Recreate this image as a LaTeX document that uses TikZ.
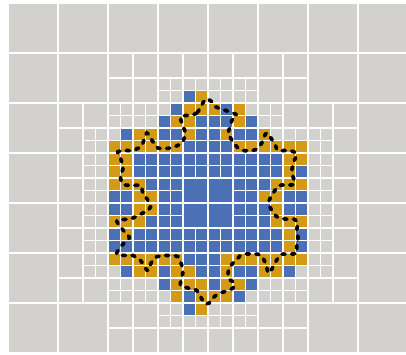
\documentclass[tikz,border=0pt]{standalone}
\definecolor{meshgray}{RGB}{211,209,205}
\definecolor{meshblue}{RGB}{76,112,181}
\definecolor{meshgold}{RGB}{211,154,24}
\usetikzlibrary{calc}

\begin{document}
\begin{tikzpicture}[x=0.5cm, y=-0.5cm,
  bigcell/.style={fill=meshgray},
  midcell/.style={fill=meshgray},
  finecell/.style={fill=meshgray},
  interface/.style={draw=black, line width=4.2pt, line cap=round, dash pattern=on 3.6pt off 7.4pt}
]
  \useasboundingbox (-0.64,-0.24) rectangle (31.84,28.08);
  \fill[white] (-0.64,-0.24) rectangle (31.84,28.08);
  \clip (-0.64,-0.24) rectangle (31.84,28.08);

  % coarse level, 8 x 7 cells
  \foreach \I in {0,...,7}
    \foreach \J in {0,...,6}
      \fill[bigcell] (4*\I+0.09,4*\J+0.09) rectangle ++(3.82,3.82);

  % coarse cells split into four
  \foreach \J/\Ilist in {1/{2,...,5}, 2/{1,...,6}, 3/{1,...,6}, 4/{1,...,6}, 5/{1,...,6}, 6/{2,...,5}}
    \foreach \I in \Ilist {
      \fill[white] (4*\I,4*\J) rectangle ++(4,4);
      \foreach \a in {0,2}
        \foreach \b in {0,2}
          \fill[midcell] (4*\I+\a+0.07,4*\J+\b+0.07) rectangle ++(1.86,1.86);
    }

  % middle cells split again
  \foreach \j/\ilist in {3/{6,...,9}, 4/{4,...,10}, 5/{3,...,12}, 6/{3,...,12}, 7/{3,...,12},
                         8/{3,...,12}, 9/{3,...,12}, 10/{3,...,12}, 11/{4,...,11}, 12/{6,...,9}}
    \foreach \i in \ilist {
      \fill[white] (2*\i,2*\j) rectangle ++(2,2);
      \foreach \a in {0,1}
        \foreach \b in {0,1}
          \fill[finecell] (2*\i+\a+0.045,2*\j+\b+0.045) rectangle ++(0.91,0.91);
    }

  % inside cells
  \foreach \r/\a/\b in {7/14/15, 8/13/18, 9/12/19, 10/9/20, 11/8/23, 12/8/23, 13/8/23, 14/8/23,
                        15/8/23, 16/8/23, 17/8/23, 18/8/23, 19/8/23, 20/8/23, 21/9/22, 22/12/19,
                        23/13/18, 24/14/15}
    \foreach \c in {\a,...,\b}
      \fill[meshblue] (\c+0.045,\r+0.045) rectangle ++(0.91,0.91);

  % centre, four middle cells
  \fill[white] (14,14) rectangle (18,18);
  \foreach \a in {14,16}
    \foreach \b in {14,16}
      \fill[meshblue] (\a+0.07,\b+0.07) rectangle ++(1.86,1.86);

  % cut cells
  \foreach \r/\cols in {7/{15}, 8/{14,15,16,18}, 9/{13,14,18}, 10/{10,11,14,17,20},
                        11/{8,9,10,11,12,13,18,19,20,21,22,23}, 12/{8,9,22,23}, 13/{8,9,22},
                        14/{8,9,10,21,22,23}, 15/{10,11,20,21}, 16/{10,11,21},
                        17/{8,9,10,21,22,23}, 18/{9,22}, 19/{22},
                        20/{8,9,10,11,12,13,17,18,19,20,21,22,23}, 21/{10,11,13,14,17,20,21},
                        22/{13,14,15,17,18}, 23/{13,15,16,17}, 24/{15}}
    \foreach \c in \cols
      \fill[meshgold] (\c+0.045,\r+0.045) rectangle ++(0.91,0.91);

  % interface
  \draw[interface] plot[smooth cycle, tension=0.45] coordinates {
    (15.8,7.7) (15.1,8.8) (14.3,9.0) (13.8,9.1) (14.0,9.9) (14.2,10.4) (13.9,11.2) (13.0,11.6)
    (12.0,11.6) (11.6,11.1) (11.1,10.4) (10.7,11.4) (10.0,11.8) (9.5,11.8) (8.8,11.9) (9.0,12.4)
    (9.2,13.2) (9.0,13.9) (9.2,14.5) (9.9,14.6) (10.6,14.6) (10.8,15.2) (11.2,15.8) (11.4,16.3)
    (11.1,16.7) (10.8,16.8) (10.0,17.2) (9.5,17.3) (8.7,17.4) (9.0,17.9) (9.4,18.4) (9.7,18.8)
    (9.0,19.5) (8.7,20.1) (9.5,20.2) (10.0,20.2) (10.6,20.6) (11.0,21.2) (11.2,21.4) (11.5,20.7)
    (11.9,20.3) (12.6,20.2) (13.1,20.2) (13.6,20.3) (13.9,21.0) (14.0,21.5) (13.9,22.0) (13.8,22.6)
    (14.4,22.8) (15.1,23.0) (15.7,24.0) (16.1,24.0) (16.3,23.7) (16.8,23.25) (17.3,23.1) (18.0,22.8)
    (18.1,22.4) (17.7,22.1) (17.6,21.7) (17.7,21.2) (18.0,20.8) (18.4,20.4) (18.8,20.1) (20.0,20.1)
    (20.4,20.4) (20.7,21.1) (20.8,21.6) (21.1,21.3) (21.3,20.9) (21.6,20.4) (21.9,20.1) (22.5,20.1)
    (23.1,20.0) (23.1,19.5) (23.2,18.8) (23.1,18.1) (23.2,17.6) (22.9,17.3) (22.4,17.3) (21.7,17.2)
    (21.3,16.9) (20.9,16.2) (20.9,15.8) (21.1,15.4) (21.7,14.6) (22.9,14.5) (22.7,13.5) (22.9,12.6)
    (23.1,12.1) (22.6,11.8) (21.6,11.8) (21.4,11.4) (20.7,10.4) (20.3,11.2) (20.0,11.6) (19.6,11.8)
    (18.8,11.8) (18.4,11.6) (18.0,11.1) (17.6,10.4) (17.8,9.9) (17.9,9.4) (18.3,9.0) (18.0,8.8)
    (16.6,8.3) (16.3,7.9)};
\end{tikzpicture}
\end{document}
